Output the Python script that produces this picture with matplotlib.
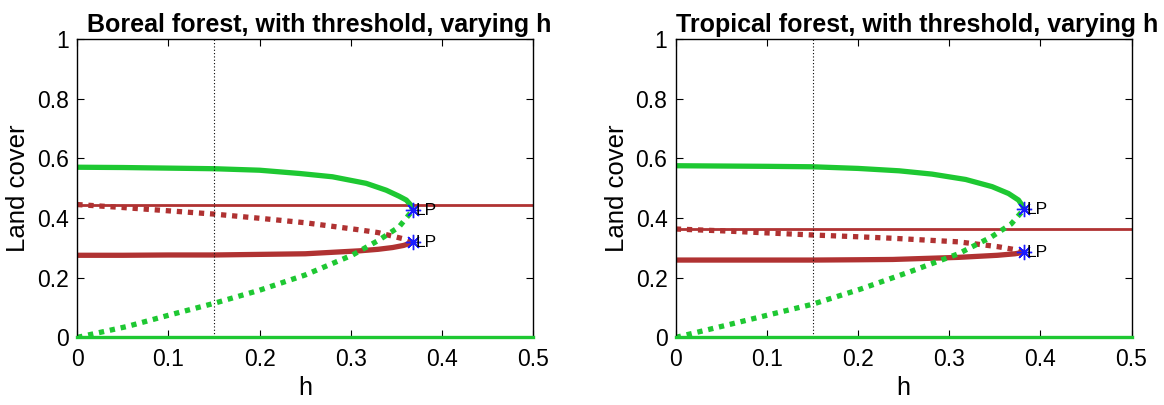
import numpy as np
import matplotlib.pyplot as plt

plt.rcParams['font.family'] = ['Liberation Sans', 'DejaVu Sans']

green = '#1ec832'
red = '#b03232'
blue = '#1a1aff'

# --- Boreal forest ---
bor_h_top = [0.0, 0.05, 0.10, 0.15, 0.20, 0.244, 0.280, 0.317, 0.339, 0.353, 0.361, 0.366, 0.368]
bor_top = [0.570, 0.569, 0.567, 0.565, 0.560, 0.549, 0.538, 0.516, 0.493, 0.473, 0.460, 0.443, 0.426]
bor_h_gdot = [0.0, 0.054, 0.10, 0.15, 0.2, 0.25, 0.302, 0.331, 0.353, 0.368]
bor_gdot = [0.0, 0.036, 0.074, 0.114, 0.158, 0.209, 0.276, 0.326, 0.370, 0.426]
bor_h_red = [0.0, 0.05, 0.10, 0.15, 0.20, 0.25, 0.31, 0.33, 0.346, 0.358, 0.368]
bor_rdot = [0.445, 0.435, 0.424, 0.413, 0.399, 0.384, 0.360, 0.351, 0.339, 0.330, 0.318]
bor_rsol = [0.275, 0.275, 0.276, 0.276, 0.278, 0.280, 0.290, 0.295, 0.301, 0.308, 0.318]
bor_rflat = 0.445
bor_lp_h = [0.368, 0.368]
bor_lp_y = [0.426, 0.318]

# --- Tropical forest ---
tro_h_top = [0.0, 0.05, 0.10, 0.15, 0.20, 0.245, 0.281, 0.318, 0.347, 0.365, 0.376, 0.381, 0.382]
tro_top = [0.575, 0.574, 0.573, 0.5715, 0.566, 0.558, 0.547, 0.529, 0.505, 0.482, 0.460, 0.4375, 0.429]
tro_h_gdot = [0.0, 0.056, 0.10, 0.15, 0.202, 0.257, 0.31, 0.346, 0.368, 0.382]
tro_gdot = [0.0, 0.041, 0.074, 0.111, 0.161, 0.220, 0.280, 0.336, 0.380, 0.429]
tro_h_red = [0.0, 0.05, 0.10, 0.15, 0.20, 0.238, 0.31, 0.353, 0.372, 0.382]
tro_rdot = [0.363, 0.357, 0.350, 0.343, 0.337, 0.332, 0.320, 0.304, 0.294, 0.285]
tro_rsol = [0.259, 0.259, 0.259, 0.259, 0.260, 0.261, 0.268, 0.275, 0.280, 0.285]
tro_rflat = 0.363
tro_lp_h = [0.382, 0.382]
tro_lp_y = [0.429, 0.285]

h_marker = 0.15
xticks = [0, 0.1, 0.2, 0.3, 0.4, 0.5]
yticks = [0, 0.2, 0.4, 0.6, 0.8, 1]


def draw(ax, title, h_top, top, h_gdot, gdot, h_red, rdot, rsol, rflat, lp_h, lp_y):
    ax.plot([0, 0.5], [0, 0], color=green, lw=2.4, clip_on=False, zorder=4)
    ax.plot([0, 0.5], [rflat, rflat], color=red, lw=2.0)
    ax.plot(h_top, top, color=green, lw=3.8, solid_capstyle='butt', solid_joinstyle='round')
    ax.plot(h_red, rsol, color=red, lw=3.8, solid_capstyle='butt', solid_joinstyle='round')
    ax.plot(h_red, rdot, color=red, lw=3.8, linestyle=(0, (1, 1.1)))
    ax.plot(h_gdot, gdot, color=green, lw=3.8, linestyle=(0, (1, 1.1)))
    ax.axvline(h_marker, color='k', lw=0.8, linestyle=(0, (1, 2)))
    ax.plot(lp_h, lp_y, linestyle='none', marker=(8, 2, 0), markersize=11,
            color=blue, markeredgewidth=1.0, zorder=5)
    for xx, yy in zip(lp_h, lp_y):
        ax.text(xx + 0.003, yy, 'LP', fontsize=12.5, va='center', ha='left', zorder=6)
    ax.set_xlim(0, 0.5)
    ax.set_ylim(0, 1)
    ax.set_xticks(xticks)
    ax.set_xticklabels(['0', '0.1', '0.2', '0.3', '0.4', '0.5'])
    ax.set_yticks(yticks)
    ax.set_yticklabels(['0', '0.2', '0.4', '0.6', '0.8', '1'])
    ax.tick_params(direction='in', top=True, right=True, labelsize=16.5, length=5)
    ax.tick_params(axis='x', pad=8)
    ax.tick_params(axis='y', pad=6)
    ax.set_xlabel('h', fontsize=18, labelpad=3)
    ax.set_ylabel('Land cover', fontsize=18.5, labelpad=5)
    ax.set_title(title, fontsize=18, fontweight='bold', pad=5, x=0.53)
    for s in ax.spines.values():
        s.set_linewidth(1.0)


fig = plt.figure(figsize=(11.64, 4.05), dpi=100)
ax1 = fig.add_axes([0.0664, 0.167, 0.3915, 0.737])
ax2 = fig.add_axes([0.5806, 0.167, 0.3915, 0.737])

draw(ax1, 'Boreal forest, with threshold, varying h', bor_h_top, bor_top,
     bor_h_gdot, bor_gdot, bor_h_red, bor_rdot, bor_rsol, bor_rflat, bor_lp_h, bor_lp_y)
draw(ax2, 'Tropical forest, with threshold, varying h', tro_h_top, tro_top,
     tro_h_gdot, tro_gdot, tro_h_red, tro_rdot, tro_rsol, tro_rflat, tro_lp_h, tro_lp_y)

fig.savefig('out.png', dpi=100)
